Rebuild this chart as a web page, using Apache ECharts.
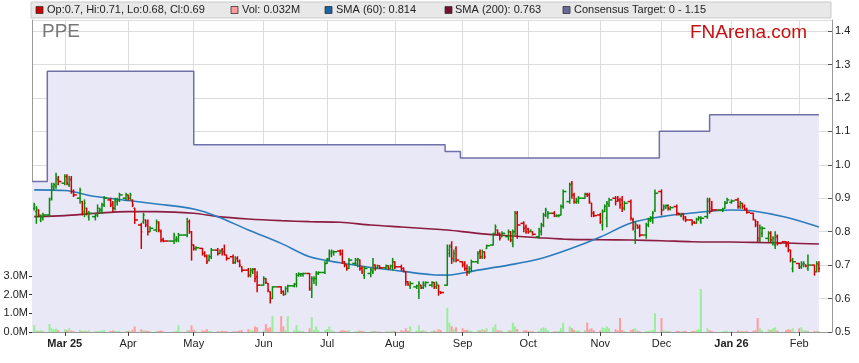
<!DOCTYPE html>
<html><head><meta charset="utf-8">
<script src="https://cdn.jsdelivr.net/npm/echarts@6/dist/echarts.min.js"></script>
<style>html,body{margin:0;padding:0;background:#fff}#c{width:859px;height:363px}</style>
</head><body><div id="c"></div><script>
// ---------- DATA ----------
const firstCategory = '2025-02-16', lastCategory = '2026-02-17';
const firstTrade = '2025-02-17', lastTrade = '2026-02-11';
const holidays = ['2025-04-18','2025-04-21','2025-04-25','2025-06-09','2025-12-25','2025-12-26','2026-01-01','2026-01-26'];

const tickDates = ['2025-03-03','2025-04-01','2025-05-01','2025-06-02','2025-07-01','2025-08-01','2025-09-01','2025-10-01','2025-11-03','2025-12-01','2026-01-02','2026-02-02'];
const tickLabels = ['Mar 25','Apr','May','Jun','Jul','Aug','Sep','Oct','Nov','Dec','Jan 26','Feb'];

// [open, high, low, close] per trading day
const priceBars = [
 [.87,.885,.865,.88],[.86,.875,.825,.87],[.865,.865,.845,.85],[.835,.85,.83,.845],[.84,.855,.835,.85],
 [.85,.9,.845,.895],[.9,.945,.895,.935],[.93,.945,.925,.94],[.935,.975,.93,.96],[.955,.965,.94,.95],
 [.945,.97,.94,.965],[.965,.97,.94,.945],[.94,.965,.935,.96],[.955,.965,.915,.92],[.92,.925,.905,.91],
 [.9,.93,.885,.925],[.89,.89,.85,.855],[.86,.895,.845,.885],[.87,.87,.85,.855],[.845,.86,.835,.855],
 [.845,.855,.835,.85],[.85,.88,.845,.87],[.86,.87,.855,.865],[.865,.885,.855,.88],[.88,.905,.875,.9],
 [.895,.9,.875,.88],[.885,.89,.86,.87],[.87,.9,.865,.895],[.89,.9,.88,.895],[.895,.915,.89,.91],
 [.9,.915,.895,.91],[.91,.91,.895,.9],[.9,.915,.895,.91],[.895,.895,.875,.88],[.87,.87,.825,.835],
 [.82,.825,.75,.8],[.83,.855,.825,.85],[.835,.835,.815,.82],[.83,.835,.79,.8],[.8,.815,.8,.81],
 [.805,.835,.8,.83],[.825,.83,.8,.805],[.8,.805,.77,.775],[.775,.78,.77,.772],
 [.772,.795,.765,.79],[.775,.785,.77,.78],[.775,.795,.77,.79],
 [.79,.84,.785,.83],[.83,.835,.795,.8],[.8,.8,.715,.76],[.76,.76,.745,.75],[.748,.755,.745,.752],
 [.75,.75,.73,.735],[.735,.74,.725,.728],[.725,.73,.705,.71],[.715,.73,.712,.725],[.725,.75,.72,.745],
 [.745,.75,.73,.735],[.735,.745,.735,.742],[.745,.75,.73,.735],[.74,.76,.73,.732],[.73,.73,.715,.72],
 [.725,.73,.705,.71],[.708,.725,.705,.72],[.72,.725,.71,.712],[.71,.715,.695,.7],[.695,.695,.68,.685],
 [.685,.69,.665,.67],[.67,.69,.665,.685],[.68,.69,.675,.688],[.688,.69,.65,.66],[.665,.68,.62,.64],
 [.64,.665,.64,.66],[.66,.66,.645,.648],[.645,.645,.62,.625],[.62,.62,.587,.6],[.6,.635,.6,.635],
 [.635,.635,.615,.62],[.62,.623,.61,.612],[.612,.635,.612,.63],[.63,.64,.62,.638],
 [.638,.645,.635,.643],[.643,.675,.635,.67],[.668,.677,.667,.673],[.672,.675,.667,.674],[.673,.676,.667,.675],
 [.675,.675,.625,.63],[.625,.665,.603,.66],[.655,.665,.645,.66],[.66,.68,.64,.678],[.675,.68,.672,.678],
 [.678,.71,.675,.705],[.705,.72,.705,.718],[.718,.745,.715,.74],[.735,.745,.725,.742],[.738,.742,.73,.74],
 [.742,.745,.73,.732],[.735,.745,.705,.71],[.71,.71,.695,.7],[.7,.7,.685,.69],[.69,.72,.69,.715],
 [.705,.72,.7,.715],[.705,.72,.695,.718],[.715,.715,.685,.69],[.69,.695,.675,.68],[.67,.695,.66,.69],
 [.675,.69,.665,.685],[.68,.72,.675,.7],[.7,.7,.685,.69],[.69,.7,.69,.698],[.698,.698,.69,.692],
 [.692,.7,.69,.698],[.698,.698,.688,.69],[.69,.7,.69,.698],[.695,.72,.685,.71],[.71,.71,.69,.695],
 [.695,.7,.685,.69],[.69,.692,.68,.682],[.68,.68,.64,.65],[.65,.65,.64,.642],[.638,.65,.63,.645],
 [.635,.64,.63,.638],[.62,.65,.6,.645],[.64,.64,.63,.632],[.632,.65,.63,.645],[.64,.65,.635,.648],
 [.64,.65,.635,.648],[.648,.648,.63,.635],[.635,.65,.63,.645],[.64,.64,.61,.62],[.62,.62,.615,.618],
 [.64,.76,.64,.745],[.735,.76,.725,.755],[.76,.77,.705,.72],[.715,.745,.71,.735],[.75,.755,.71,.715],
 [.71,.71,.695,.7],[.705,.71,.685,.69],[.69,.7,.67,.68],[.68,.695,.675,.69],[.69,.715,.68,.71],
 [.71,.74,.705,.735],[.74,.745,.72,.725],[.725,.745,.72,.74],[.74,.74,.72,.725],[.75,.76,.75,.758],
 [.76,.795,.76,.79],[.795,.82,.795,.815],[.805,.805,.79,.795],[.795,.795,.775,.78],[.785,.8,.785,.795],
 [.785,.805,.775,.8],[.8,.8,.77,.775],[.765,.805,.755,.8],[.8,.86,.79,.855],[.855,.86,.78,.82],
 [.825,.83,.8,.81],[.815,.82,.795,.8],[.808,.81,.795,.798],[.8,.805,.8,.804],[.8,.8,.79,.792],
 [.785,.81,.78,.805],[.8,.825,.79,.82],[.82,.855,.815,.85],[.85,.87,.845,.865],[.85,.86,.84,.855],
 [.855,.86,.845,.848],[.846,.85,.845,.849],[.846,.85,.845,.849],[.85,.88,.85,.875],[.875,.925,.87,.92],
 [.89,.945,.885,.94],[.945,.95,.9,.91],[.91,.915,.885,.89],[.888,.9,.885,.895],[.89,.905,.885,.9],
 [.9,.915,.9,.912],[.912,.915,.905,.91],[.91,.915,.885,.89],[.885,.885,.845,.855],[.855,.86,.845,.848],
 [.85,.855,.825,.83],[.82,.865,.805,.86],[.86,.88,.86,.875],[.84,.89,.815,.885],[.88,.9,.875,.895],
 [.9,.905,.88,.89],[.9,.905,.89,.895],[.895,.9,.87,.88],[.895,.905,.86,.87],[.87,.89,.865,.885],
 [.89,.895,.835,.84],[.835,.84,.805,.81],[.8,.83,.765,.825],[.82,.82,.81,.812],[.815,.82,.785,.79],
 [.79,.825,.78,.82],[.82,.84,.815,.835],[.835,.845,.83,.842],[.835,.86,.825,.855],[.865,.925,.86,.915],
 [.92,.925,.85,.865],[.865,.88,.865,.875],[.87,.88,.87,.878],[.878,.88,.865,.87],[.868,.875,.865,.872],
 [.875,.88,.85,.855],[.855,.855,.85,.852],[.848,.855,.845,.853],[.853,.855,.835,.84],[.845,.845,.83,.835],
 [.835,.835,.82,.825],[.828,.83,.825,.826],[.826,.84,.825,.838],[.836,.845,.835,.842],[.83,.845,.825,.84],
 [.845,.9,.84,.895],[.89,.9,.855,.86],[.87,.89,.86,.865],
 [.865,.87,.86,.868],[.87,.89,.87,.885],[.885,.9,.885,.895],[.888,.895,.885,.892],
 [.895,.9,.87,.875],[.875,.89,.87,.885],[.885,.885,.87,.875],[.875,.88,.865,.868],[.865,.87,.855,.858],
 [.855,.855,.835,.838],[.835,.835,.815,.82],[.83,.83,.77,.78],[.775,.82,.77,.81],[.795,.815,.785,.81],
 [.78,.8,.77,.795],[.795,.8,.77,.775],[.765,.785,.76,.78],[.76,.8,.75,.79],[.785,.79,.76,.765],
 [.77,.77,.755,.76],[.765,.77,.74,.745],[.745,.745,.71,.715],[.69,.72,.68,.71],
 [.705,.705,.69,.695],[.695,.71,.69,.705],[.7,.71,.695,.705],[.7,.7,.695,.697],[.69,.73,.685,.7],
 [.7,.7,.67,.68],[.68,.71,.68,.705],[.7,.71,.68,.69]
];

// volume, millions, per trading day
const volumes = [
 .37,.08,.05,.1,.06, .43,.2,.15,.18,.1, .15,.1,.2,.08,.05, .12,.05,.08,.04,.1,
 .04,.06,.05,.08,.1, .05,.08,.06,.04,.07, .05,.06,.05,.12,.3, .15,.1,.08,.06,.05,
 .05,.06,.08,.04, .04,.05,.35,
 .1,.08,.35,.12,.06, .08,.06,.15,.05,.05, .05,.04,.06,.05,.05, .04,.06,.05,.08,.1,
 .15,.1,.08,.3,.25, .08,.43,.2,.25,.85,
 .85,.3,.1,.85,
 .1,.37,.08,.06,.05, .2,.8,.1,.3,.1, .1,.15,.3,.1,.05, .05,.1,.08,.06,.1,
 .05,.06,.08,.05,.06, .04,.06,.05,.04,.03, .04,.03,.05,.08,.05, .1,.05,.2,.06,.3,
 .08,.35,.05,.1,.06, .05,.08,.06,.15,.1, 1.3,.5,.3,.15,.25, .2,.1,.12,.08,.06,
 .1,.08,.15,.1,.2, .25,.4,.1,.08,.06, .1,.08,.5,.3,.15, .08,.1,.05,.06,.05,
 .05,.2,.25,.2,.1, .04,.05,.05,.2,.5, .3,.2,.1,.08,.1, .1,.5,.15,.2,.1,
 .08,.25,.2,.3,.2, .15,.08,.75,.1,.06, .1,.15,.2,.06,.05, .05,.06,.08,.1,1.0,
 .75,.1,.06,.05,.05, .06,.05,.04,.05,.06, .05,.06,.1,.15,2.3,
 .2,.1,.05,
 .04,.05,.06,.05,
 .08,.06,.05,.04,.06, .06,.1,.75,.2,.1, .15,.1,.2,.25,.08,
 .1,.15,.12,.2,
 .2,.25,.1,.06,.08,
 .05,.06,.032
];

// moving averages read at sample dates
const smaDates = ['2025-02-17','2025-03-03','2025-03-17','2025-04-01','2025-04-14','2025-05-01','2025-05-12','2025-05-26','2025-06-10','2025-06-23','2025-07-07','2025-07-21','2025-08-04','2025-08-18','2025-08-25','2025-09-08','2025-09-22','2025-10-06','2025-10-20','2025-11-03','2025-11-17','2025-12-01','2025-12-15','2026-01-02','2026-01-12','2026-01-27','2026-02-11'];
const sma60 = [.925,.923,.905,.893,.883,.868,.845,.805,.765,.725,.707,.693,.682,.671,.67,.685,.70,.718,.748,.784,.826,.845,.856,.865,.862,.843,.814];
const sma200 = [.845,.848,.855,.86,.86,.855,.845,.838,.833,.83,.828,.82,.814,.808,.805,.795,.788,.782,.777,.776,.775,.773,.77,.769,.768,.766,.763];

// consensus target steps (value from date onwards)
const targetDates = ['2025-02-16','2025-02-23','2025-05-01','2025-08-24','2025-08-31','2025-11-30','2025-12-23','2026-02-11'];
const targetValues = [0.95,1.28,1.06,1.04,1.02,1.10,1.15,1.15];

// ---------- BUILD ----------
function iso(t){ return new Date(t).toISOString().slice(0,10); }
const categories = [];
for (let t = Date.parse(firstCategory+'T00:00:00Z'); t <= Date.parse(lastCategory+'T00:00:00Z'); t += 86400000) categories.push(iso(t));
const catIndex = {}; categories.forEach((c,i)=>catIndex[c]=i);
const holidaySet = new Set(holidays);
const tradingDates = categories.filter(s=>{
  const wd = new Date(s+'T00:00:00Z').getUTCDay();
  return wd!==0 && wd!==6 && !holidaySet.has(s) && s>=firstTrade && s<=lastTrade;
});
const n = Math.min(tradingDates.length, priceBars.length);
const ohlcData = [], volData = [];
for (let k=0;k<n;k++){
  const idx = catIndex[tradingDates[k]];
  const prev = k>0 ? idx - catIndex[tradingDates[k-1]] : 1;
  const next = k<n-1 ? catIndex[tradingDates[k+1]] - idx : 1;
  const b = priceBars[k];
  ohlcData.push([idx,b[0],b[1],b[2],b[3],prev,next]);
  const col = b[3]>b[0] ? '#99ee99' : (b[3]<b[0] ? '#ff9c9c' : '#808080');
  volData.push({value:[idx, volumes[k]], itemStyle:{color:col}});
}
const sma60Data = smaDates.map((d,i)=>[catIndex[d], sma60[i]]);
const sma200Data = smaDates.map((d,i)=>[catIndex[d], sma200[i]]);
const targetData = targetDates.map((d,i)=>[catIndex[d], targetValues[i]]);
const tickMap = {}; tickDates.forEach((d,i)=>tickMap[d]=tickLabels[i]);

const FONT = 'Arial, "Liberation Sans", sans-serif';
const GREEN = '#0a8a0a', RED = '#d20000';
const last = priceBars[n-1];

const chart = echarts.init(document.getElementById('c'), null, {renderer:'canvas'});
const legendY = 10;
function sq(x,color){ return {type:'rect', shape:{x:x,y:legendY-3.5,width:7,height:7}, style:{fill:color, stroke:'#333', lineWidth:0.8}, z:101}; }
function txt(x,s){ return {type:'text', x:x, y:legendY, style:{text:s, font:'11px '+FONT, fill:'#222', verticalAlign:'middle'}, z:101}; }

chart.setOption({
  animation:false,
  backgroundColor:'#fff',
  grid:[
    {left:32, right:27, top:20, bottom:31},
    {left:32, right:27, bottom:31, height:56}
  ],
  xAxis:[
    {type:'category', gridIndex:0, data:categories, boundaryGap:false,
     axisLine:{lineStyle:{color:'#999'}},
     axisTick:{interval:(i,v)=>tickMap[v]!==undefined, length:4, lineStyle:{color:'#444'}},
     axisLabel:{interval:(i,v)=>tickMap[v]!==undefined, margin:6, fontSize:11, fontFamily:FONT, color:'#222',
       formatter:(v)=>{const s=tickMap[v]||''; return /\d/.test(s)?'{b|'+s+'}':s;},
       rich:{b:{fontWeight:'bold', fontSize:11, fontFamily:FONT, color:'#222'}}},
     splitLine:{show:true, interval:(i,v)=>tickMap[v]!==undefined, lineStyle:{color:'#dcdcdc'}}
    },
    {type:'category', gridIndex:1, data:categories, boundaryGap:false, show:false}
  ],
  yAxis:[
    {type:'value', gridIndex:0, position:'right', min:0.5, max:1.433, interval:0.1,
     axisLine:{show:true, lineStyle:{color:'#999'}},
     axisTick:{show:true, inside:true, length:4, lineStyle:{color:'#555'}},
     axisLabel:{showMaxLabel:false, margin:3, fontSize:11, fontFamily:FONT, color:'#222', formatter:(v)=>v.toFixed(1)},
     splitLine:{show:true, lineStyle:{color:'#dcdcdc'}}
    },
    {type:'value', gridIndex:0, position:'left', min:0.5, max:1.433,
     axisLine:{show:true, onZero:false, lineStyle:{color:'#999'}}, axisTick:{show:false}, axisLabel:{show:false}, splitLine:{show:false}},
    {type:'value', gridIndex:1, position:'left', min:0, max:3, interval:1,
     axisLine:{show:false}, axisTick:{show:true, length:3, lineStyle:{color:'#333'}},
     axisLabel:{margin:4, fontSize:11, fontFamily:FONT, color:'#222', formatter:(v)=>v.toFixed(1)+'M'},
     splitLine:{show:false}}
  ],
  series:[
    {name:'Consensus Target', type:'line', xAxisIndex:0, yAxisIndex:0, data:targetData, step:'end', symbol:'none',
     lineStyle:{color:'#7070a8', width:1.5}, areaStyle:{color:'#e8e8f7', opacity:1, origin:'start'}, z:1, silent:true},
    {name:'Vol', type:'bar', xAxisIndex:1, yAxisIndex:2, data:volData, barWidth:2, z:2, silent:true},
    {name:'SMA200', type:'line', xAxisIndex:0, yAxisIndex:0, data:sma200Data, smooth:0.3, symbol:'none',
     lineStyle:{color:'#8c1c40', width:1.6}, z:3, silent:true},
    {name:'SMA60', type:'line', xAxisIndex:0, yAxisIndex:0, data:sma60Data, smooth:0.3, symbol:'none',
     lineStyle:{color:'#2b7cbd', width:1.6}, z:3, silent:true},
    {name:'OHLC', type:'custom', xAxisIndex:0, yAxisIndex:0, data:ohlcData, z:4, silent:true,
     encode:{x:0, y:[1,2,3,4]},
     renderItem:function(params, api){
       const i = api.value(0), o=api.value(1), h=api.value(2), l=api.value(3), c=api.value(4);
       const ph = api.coord([i,h]), pl = api.coord([i,l]), po = api.coord([i,o]), pc = api.coord([i,c]);
       const step = api.coord([i+1,o])[0] - po[0];
       const lg = api.value(5)/2*step, rg = api.value(6)/2*step;
       const color = c>=o ? GREEN : RED;
       const st = {stroke:color, lineWidth:1.5};
       return {type:'group', children:[
         {type:'line', shape:{x1:ph[0],y1:ph[1]-0.5,x2:pl[0],y2:pl[1]+0.5}, style:st},
         {type:'line', shape:{x1:po[0]-lg,y1:po[1],x2:po[0],y2:po[1]}, style:st},
         {type:'line', shape:{x1:pc[0],y1:pc[1],x2:pc[0]+rg,y2:pc[1]}, style:st}
       ]};
     }
    }
  ],
  graphic:[
    {type:'rect', shape:{x:31,y:2,width:800,height:16}, style:{fill:'#e8e8e8', stroke:'#cacaca', lineWidth:1}, z:100},
    sq(36,'#cc0000'), txt(47,'Op:'+last[0]+', Hi:'+last[1]+', Lo:'+last[2]+', Cl:'+last[3]),
    sq(231,'#ff9c9c'), txt(242,'Vol: '+volumes[n-1]+'M'),
    sq(325,'#1a64a6'), txt(336,'SMA (60): '+sma60[sma60.length-1]),
    sq(445,'#7a1030'), txt(455,'SMA (200): '+sma200[sma200.length-1]),
    sq(563,'#6a6a9a'), txt(574,'Consensus Target: 0 - '+targetValues[targetValues.length-1]),
    {type:'text', x:42, y:22, style:{text:'PPE', font:'19px '+FONT, fill:'#777'}, z:101},
    {type:'text', x:690, y:23, style:{text:'FNArena.com', font:'19px '+FONT, fill:'#c81010'}, z:101}
  ]
});
</script></body></html>
